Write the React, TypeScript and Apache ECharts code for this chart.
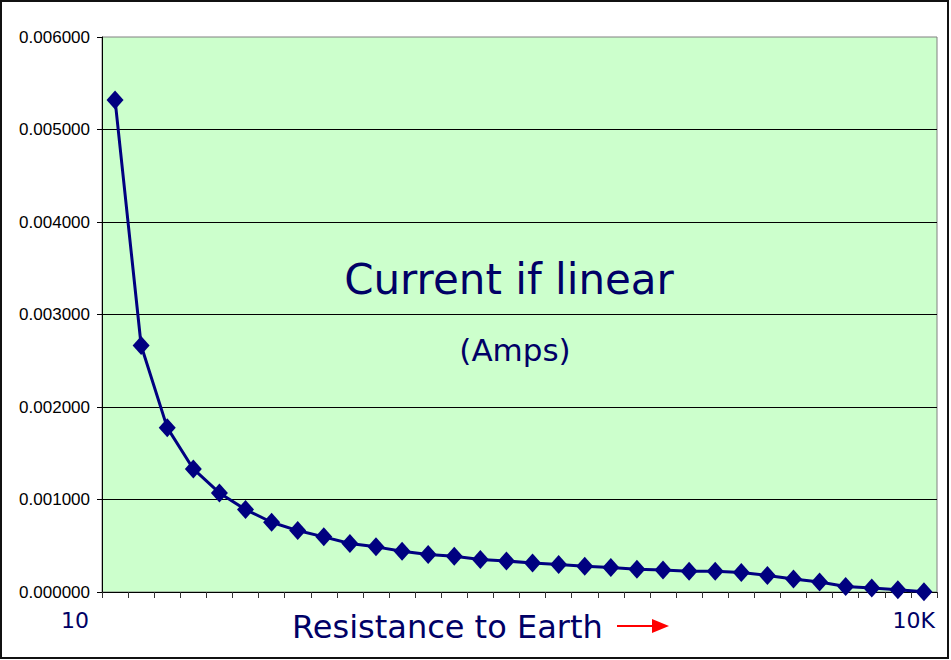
import React, { useEffect, useRef } from "react";
import * as echarts from "echarts";

// Data
const categories: string[] = [
  "1", "2", "3", "4", "5", "6", "7", "8", "9", "10", "11", "12", "13", "14", "15", "16",
  "17", "18", "19", "20", "21", "22", "23", "24", "25", "26", "27", "28", "29", "30", "31", "32",
];
const currentValues: number[] = [
  0.00532, 0.002665, 0.001777, 0.00133, 0.001071, 0.000891, 0.000754, 0.000664,
  0.000596, 0.000524, 0.000488, 0.000441, 0.000405, 0.000386, 0.000351, 0.000335,
  0.000314, 0.000297, 0.000279, 0.000264, 0.000246, 0.000238, 0.000224, 0.000225,
  0.000212, 0.000179, 0.00014, 0.000108, 0.00006, 0.000042, 0.000025, 0.000002,
];
const yMin = 0;
const yMax = 0.006;
const yInterval = 0.001;
const xStartLabel = "10";
const xEndLabel = "10K";
const xAxisTitle = "Resistance to Earth";
const chartTitle = "Current if linear";
const chartSubtitle = "(Amps)";

const NAVY = "#000066";

export default function App() {
  const ref = useRef<HTMLDivElement>(null);
  useEffect(() => {
    if (!ref.current) return;
    const chart = echarts.init(ref.current, undefined, { renderer: "svg" });
    chart.setOption({
      animation: false,
      backgroundColor: "#ffffff",
      grid: {
        left: 102,
        right: 14,
        top: 37,
        bottom: 68,
        show: true,
        backgroundColor: "#CCFFCC",
        borderColor: "#808080",
        borderWidth: 1,
      },
      xAxis: {
        type: "category",
        data: categories,
        boundaryGap: true,
        axisLine: { show: true, lineStyle: { color: "#000", width: 1 } },
        axisTick: { show: true, length: 6, lineStyle: { color: "#333" } },
        axisLabel: { show: false },
        splitLine: { show: false },
      },
      yAxis: {
        type: "value",
        min: yMin,
        max: yMax,
        interval: yInterval,
        axisLine: { show: true, lineStyle: { color: "#000", width: 1 } },
        axisTick: { show: true, length: 5, lineStyle: { color: "#000" } },
        axisLabel: {
          formatter: (v: number) => v.toFixed(6),
          fontSize: 17,
          fontFamily: "'Liberation Sans', Arial, sans-serif",
          color: "#000",
          margin: 12,
        },
        splitLine: {
          show: true,
          showMinLine: false,
          showMaxLine: false,
          lineStyle: { color: "#000", width: 1 },
        },
      },
      series: [
        {
          type: "line",
          data: currentValues,
          showSymbol: true,
          showAllSymbol: true,
          symbol: "diamond",
          symbolSize: [17, 19],
          lineStyle: { color: "#000080", width: 3 },
          itemStyle: { color: "#000080" },
          z: 5,
        },
      ],
      graphic: [
        {
          type: "text",
          x: 509,
          y: 279,
          style: {
            text: chartTitle,
            fontSize: 42,
            fontFamily: "'DejaVu Sans', Verdana, sans-serif",
            fill: NAVY,
            textAlign: "center",
            textVerticalAlign: "middle",
          },
        },
        {
          type: "text",
          x: 515,
          y: 350,
          style: {
            text: chartSubtitle,
            fontSize: 31,
            fontFamily: "'DejaVu Sans', Verdana, sans-serif",
            fill: NAVY,
            textAlign: "center",
            textVerticalAlign: "middle",
          },
        },
        {
          type: "text",
          x: 89,
          y: 620,
          style: {
            text: xStartLabel,
            fontSize: 22,
            fontFamily: "'DejaVu Sans', Verdana, sans-serif",
            fill: NAVY,
            textAlign: "right",
            textVerticalAlign: "middle",
          },
        },
        {
          type: "text",
          x: 935,
          y: 620,
          style: {
            text: xEndLabel,
            fontSize: 22,
            fontFamily: "'DejaVu Sans', Verdana, sans-serif",
            fill: NAVY,
            textAlign: "right",
            textVerticalAlign: "middle",
          },
        },
        {
          type: "text",
          x: 292,
          y: 627,
          style: {
            text: xAxisTitle,
            fontSize: 32,
            fontFamily: "'DejaVu Sans', Verdana, sans-serif",
            fill: NAVY,
            textAlign: "left",
            textVerticalAlign: "middle",
          },
        },
        {
          type: "line",
          shape: { x1: 617, y1: 626, x2: 656, y2: 626 },
          style: { stroke: "#ff0000", lineWidth: 2 },
        },
        {
          type: "polygon",
          shape: { points: [[652, 619], [669, 626], [652, 633]] },
          style: { fill: "#ff0000" },
        },
        {
          type: "rect",
          shape: { x: 1, y: 1, width: 947, height: 657 },
          style: { fill: "none", stroke: "#111", lineWidth: 2 },
          silent: true,
        },
      ],
    });
    return () => chart.dispose();
  }, []);
  return (
    <div
      ref={ref}
      style={{ position: "fixed", left: 0, top: 0, width: 951, height: 660 }}
    />
  );
}
